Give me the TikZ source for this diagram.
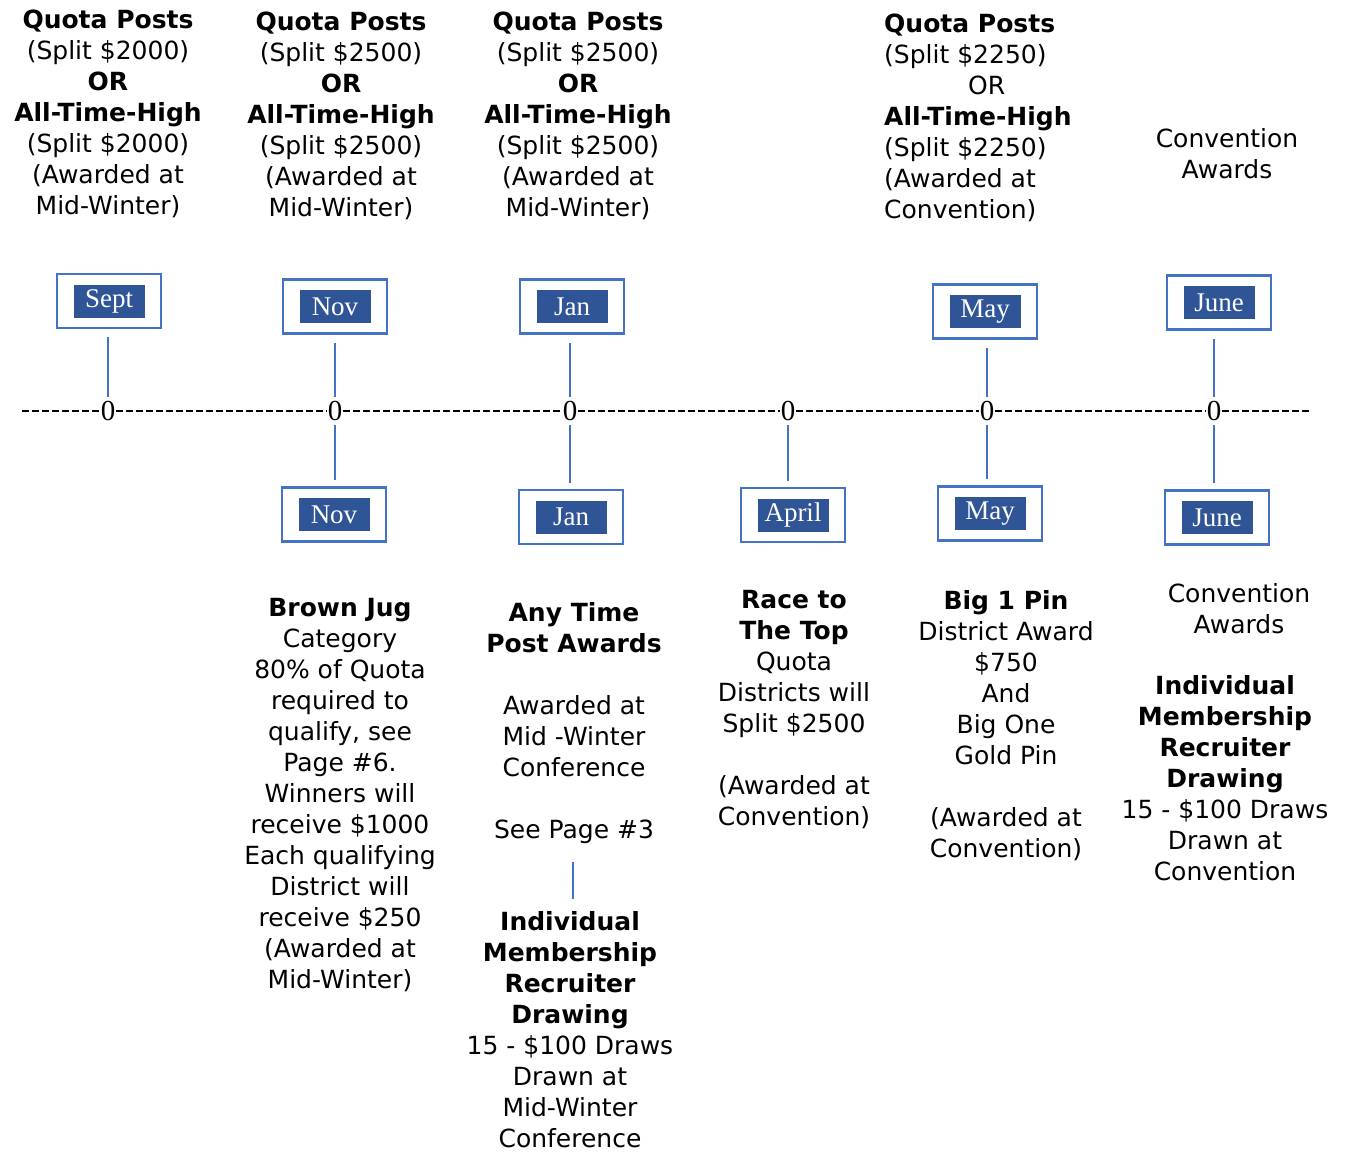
\documentclass[tikz,border=0pt]{standalone}
\usepackage{fontspec}
\setmainfont{DejaVu Sans}
\newfontfamily\monthfont{Liberation Serif}
\definecolor{frameblue}{HTML}{4472C4}
\definecolor{tagblue}{HTML}{2F5597}

\begin{document}
\begin{tikzpicture}[x=1pt, y=-1pt,
    blurb/.style ={align=center, inner sep=0pt, anchor=north, font=\fontsize{25}{31}\selectfont},
    monthframe/.style ={draw=frameblue, line width=2.5pt, minimum width=104pt, minimum height=54pt, inner sep=0pt},
    monthtag/.style ={fill=tagblue, text=white, minimum width=71pt, minimum height=33pt, inner sep=0pt, font=\monthfont\fontsize{27}{30}\selectfont},
    zero/.style ={inner sep=0.6pt, font=\monthfont\fontsize{29}{30}\selectfont},
    axis/.style ={line width=1.3pt, dash pattern=on 7pt off 3pt},
    stem/.style ={draw=frameblue, line width=1.4pt, shorten <=3pt, shorten >=6pt}]
   \useasboundingbox (0,0) rectangle (1351,1152);

   \node[blurb] (quotaA) at (108,10) {\textbf{Quota Posts}\\(Split \$2000)\\\textbf{OR}\\\textbf{All-Time-High}\\(Split \$2000)\\(Awarded at\\Mid-Winter)};
   \node[blurb] (quotaB) at (341,12) {\textbf{Quota Posts}\\(Split \$2500)\\\textbf{OR}\\\textbf{All-Time-High}\\(Split \$2500)\\(Awarded at\\Mid-Winter)};
   \node[blurb] (quotaC) at (578,12) {\textbf{Quota Posts}\\(Split \$2500)\\\textbf{OR}\\\textbf{All-Time-High}\\(Split \$2500)\\(Awarded at\\Mid-Winter)};
   \node[blurb, align=left, anchor=north west] (quotaD) at (884,14) {\textbf{Quota Posts}\\(Split \$2250)\\\hspace*{84pt}OR\\\textbf{All-Time-High}\\(Split \$2250)\\(Awarded at\\Convention)};
   \node[blurb] (convA) at (1227,128) {Convention\\Awards};

   \node[monthframe] (septA) at (109,301) {};
   \node[monthtag] (septTag) at (septA) {Sept};
   \node[monthframe] (novA) at (335,306.5) {};
   \node[monthtag] (novATag) at (novA) {Nov};
   \node[monthframe] (janA) at (572,306.5) {};
   \node[monthtag] (janATag) at (janA) {Jan};
   \node[monthframe] (mayA) at (985,311.5) {};
   \node[monthtag] (mayATag) at (mayA) {May};
   \node[monthframe] (juneA) at (1219,302.5) {};
   \node[monthtag] (juneATag) at (juneA) {June};

   \node[monthframe] (novB) at (334,514.5) {};
   \node[monthtag] (novBTag) at (novB) {Nov};
   \node[monthframe] (janB) at (571,517) {};
   \node[monthtag] (janBTag) at (janB) {Jan};
   \node[monthframe] (aprB) at (793,515) {};
   \node[monthtag] (aprBTag) at (aprB) {April};
   \node[monthframe] (mayB) at (990,513.5) {};
   \node[monthtag] (mayBTag) at (mayB) {May};
   \node[monthframe] (juneB) at (1217,517.5) {};
   \node[monthtag] (juneBTag) at (juneB) {June};

   \coordinate (axL) at (22,411);
   \coordinate (axR) at (1309,411);
   \node[zero] (t1) at (108,411) {0};
   \node[zero] (t2) at (335,411) {0};
   \node[zero] (t3) at (570,411) {0};
   \node[zero] (t4) at (788,411) {0};
   \node[zero] (t5) at (987,411) {0};
   \node[zero] (t6) at (1214,411) {0};
   \draw[axis] (axL) -- (t1) -- (t2) -- (t3) -- (t4) -- (t5) -- (t6) -- (axR);

   \draw[stem, shorten >=8pt] (t1.north) -- (t1.north |- septA.south);
   \draw[stem, shorten >=8pt] (t2.north) -- (t2.north |- novA.south);
   \draw[stem, shorten >=8pt] (t3.north) -- (t3.north |- janA.south);
   \draw[stem, shorten >=8pt] (t5.north) -- (t5.north |- mayA.south);
   \draw[stem, shorten >=8pt] (t6.north) -- (t6.north |- juneA.south);
   \draw[stem] (t2.south) -- (t2.south |- novB.north);
   \draw[stem] (t3.south) -- (t3.south |- janB.north);
   \draw[stem] (t4.south) -- (t4.south |- aprB.north);
   \draw[stem] (t5.south) -- (t5.south |- mayB.north);
   \draw[stem] (t6.south) -- (t6.south |- juneB.north);

   \node[blurb] (brownJug) at (340,598) {\textbf{Brown Jug}\\Category\\80\% of Quota\\required to\\qualify, see\\Page \#6.\\Winners will\\receive \$1000\\Each qualifying\\District will\\receive \$250\\(Awarded at\\Mid-Winter)};
   \node[blurb] (anyTime) at (574,602) {\textbf{Any Time}\\\textbf{Post Awards}\\~\\Awarded at\\Mid -Winter\\Conference\\~\\See Page \#3};
   \node[blurb] (drawMid) at (570,911) {\textbf{Individual}\\\textbf{Membership}\\\textbf{Recruiter}\\\textbf{Drawing}\\15 - \$100 Draws\\Drawn at\\Mid-Winter\\Conference};
   \node[blurb] (raceTop) at (794,590) {\textbf{Race to}\\\textbf{The Top}\\Quota\\Districts will\\Split \$2500\\~\\(Awarded at\\Convention)};
   \node[blurb] (bigPin) at (1006,590) {\textbf{Big 1 Pin}\\District Award\\\$750\\And\\Big One\\Gold Pin\\~\\(Awarded at\\Convention)};
   \node[blurb] (convB) at (1239,583) {Convention\\Awards};
   \node[blurb] (drawConv) at (1225,675) {\textbf{Individual}\\\textbf{Membership}\\\textbf{Recruiter}\\\textbf{Drawing}\\15 - \$100 Draws\\Drawn at\\Convention};

   \draw[stem, shorten <=18pt, shorten >=12pt] (anyTime.south -| 573,0) -- (drawMid.north -| 573,0);
 \end{tikzpicture}
\end{document}
